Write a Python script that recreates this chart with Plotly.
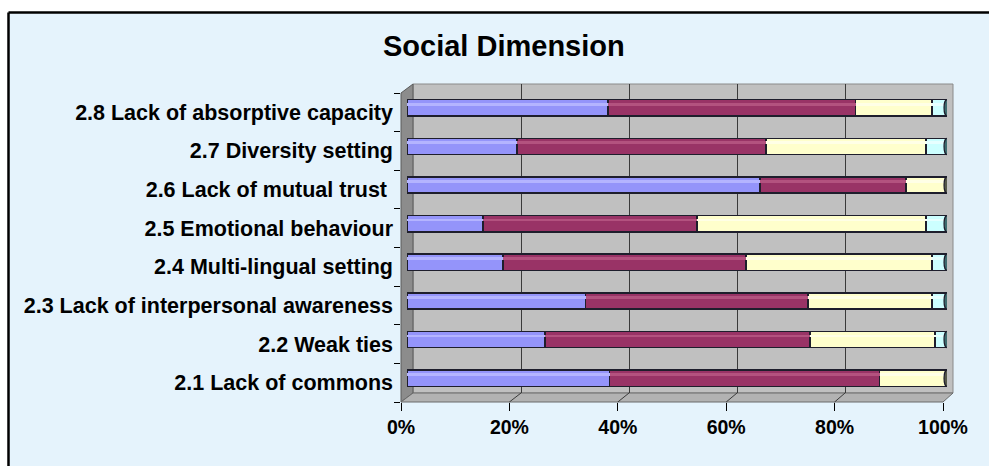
import plotly.graph_objects as go

W, H = 989, 466

# ---- data -------------------------------------------------------------
categories = [
    "2.1 Lack of commons",
    "2.2 Weak ties",
    "2.3 Lack of interpersonal awareness",
    "2.4 Multi-lingual setting",
    "2.5 Emotional behaviour",
    "2.6 Lack of mutual trust\u00a0",
    "2.7 Diversity setting",
    "2.8 Lack of absorptive capacity",
]
series_names = ["Series1", "Series2", "Series3", "Series4"]
s1 = [37.5, 25.6, 33.1, 17.8, 14.1, 65.4, 20.4, 37.2]
s2 = [50.0, 49.0, 41.2, 45.0, 39.6, 27.0, 46.1, 45.9]
s3 = [12.5, 23.2, 22.9, 34.4, 42.4, 7.6, 29.6, 14.1]
s4 = [0.0, 2.2, 2.8, 2.8, 3.9, 0.0, 3.9, 2.8]
x_ticks = [0, 20, 40, 60, 80, 100]
title_text = "Social Dimension"

colors = ["#9494fa", "#993366", "#ffffcc", "#ccffff"]
shine = ["#b4b4ff", "#b3527f", "#ffffe6", "#e6ffff"]
cap_colors = ["#4a4a80", "#4d1a33", "#55584a", "#3d6b6e"]


# ---- pixel helpers (figure has zero margins, so paper == pixels) -------
def X(px):
    return px / W


def Y(py):
    return 1 - py / H


# three planes of the pseudo-3D box: back wall, bar plane, front edge
back = dict(x0=413, x1=953, y0=84, y1=393)
mid = dict(x0=407, x1=947, y0=88.5, y1=397.5)
front = dict(x0=401, x1=943, y0=93, y1=402)

fig = go.Figure()

# invisible anchor trace for the back-wall grid
fig.add_trace(go.Scatter(x=[0], y=[0], xaxis="x", yaxis="y", mode="markers",
                         marker=dict(opacity=0), hoverinfo="skip", showlegend=False))

# stacked bars
for name, vals, col in zip(series_names, [s1, s2, s3, s4], colors):
    fig.add_trace(go.Bar(
        y=categories, x=vals, orientation="h", name=name,
        marker=dict(color=col, line=dict(color="#1e1e2c", width=1.5)),
        width=0.42, xaxis="x2", yaxis="y2", showlegend=False,
    ))

# thin highlight band along the upper part of each cylinder
for name, vals, col in zip(series_names, [s1, s2, s3, s4], shine):
    fig.add_trace(go.Bar(
        y=categories, x=vals, orientation="h", name=name,
        marker=dict(color=col, line=dict(width=0)),
        width=0.07, offset=0.06, xaxis="x2", yaxis="y4", showlegend=False,
        hoverinfo="skip",
    ))

# invisible anchor trace for the front axes (labels + ticks)
fig.add_trace(go.Scatter(x=[0] * len(categories), y=categories, xaxis="x3", yaxis="y3",
                         mode="markers", marker=dict(opacity=0), hoverinfo="skip",
                         showlegend=False))

shapes = []
# white page strips above and left of the chart panel, with the panel frame
shapes.append(dict(type="rect", xref="paper", yref="paper", x0=0, x1=1, y0=Y(12.5), y1=1,
                   fillcolor="#ffffff", line=dict(width=0), layer="below"))
shapes.append(dict(type="rect", xref="paper", yref="paper", x0=0, x1=X(8.5), y0=0, y1=1,
                   fillcolor="#ffffff", line=dict(width=0), layer="below"))
shapes.append(dict(type="line", xref="paper", yref="paper", x0=X(8.5), x1=1,
                   y0=Y(12.5), y1=Y(12.5), line=dict(color="#000000", width=2.5)))
shapes.append(dict(type="line", xref="paper", yref="paper", x0=X(8.5), x1=X(8.5),
                   y0=0, y1=Y(12.5), line=dict(color="#000000", width=2.5)))
# back wall
shapes.append(dict(type="rect", xref="paper", yref="paper",
                   x0=X(back["x0"]), x1=X(back["x1"]), y0=Y(back["y1"]), y1=Y(back["y0"]),
                   fillcolor="#c0c0c0", line=dict(color="#8a8a8a", width=1), layer="below"))
# side wall
shapes.append(dict(type="path", xref="paper", yref="paper",
                   path=(f"M{X(front['x0'])},{Y(front['y0'])} L{X(back['x0'])},{Y(back['y0'])} "
                         f"L{X(back['x0'])},{Y(back['y1'])} L{X(front['x0'])},{Y(front['y1'])} Z"),
                   fillcolor="#8c8c8c", line=dict(color="#5a5a5a", width=1), layer="below"))
# floor
shapes.append(dict(type="path", xref="paper", yref="paper",
                   path=(f"M{X(front['x0'])},{Y(front['y1'])} L{X(back['x0'])},{Y(back['y1'])} "
                         f"L{X(back['x1'])},{Y(back['y1'])} L{X(front['x1'])},{Y(front['y1'])} Z"),
                   fillcolor="#b2b2b2", line=dict(color="#6a6a6a", width=1), layer="below"))
# floor grid lines joining front ticks to back-wall grid lines
for v in x_ticks[1:-1]:
    fx = front["x0"] + v / 100 * (front["x1"] - front["x0"])
    bx = back["x0"] + v / 100 * (back["x1"] - back["x0"])
    shapes.append(dict(type="line", xref="paper", yref="paper",
                       x0=X(fx), y0=Y(front["y1"]), x1=X(bx), y1=Y(back["y1"]),
                       line=dict(color="#3a3a3a", width=1), layer="below"))

# end caps of each cylinder
totals = [a + b + c + d for a, b, c, d in zip(s1, s2, s3, s4)]
for i, tot in enumerate(totals):
    last = 3 if s4[i] > 0 else 2
    shapes.append(dict(type="circle", xref="x2", yref="y2",
                       x0=tot - 0.55, x1=tot + 0.55, y0=i - 0.21, y1=i + 0.21,
                       fillcolor=cap_colors[last], line=dict(color="#1e1e2c", width=1.2),
                       layer="above"))

bold = dict(family="Liberation Sans, Arial, sans-serif", color="#000000", weight="bold")
cat_axis = dict(type="category", categoryorder="array", categoryarray=categories,
                range=[-0.5, len(categories) - 0.5], automargin=False)

fig.update_layout(
    width=W, height=H,
    autosize=False,
    margin=dict(l=0, r=0, t=0, b=0, pad=0, autoexpand=False),
    paper_bgcolor="#e5f3fc",
    plot_bgcolor="rgba(0,0,0,0)",
    barmode="stack",
    showlegend=False,
    shapes=shapes,
    xaxis=dict(domain=[X(back["x0"]), X(back["x1"])], range=[0, 100], anchor="y",
               tickvals=x_ticks[1:-1], showgrid=True, gridcolor="#3a3a3a", gridwidth=1,
               showticklabels=False, ticks="", zeroline=False, showline=False,
               automargin=False),
    yaxis=dict(domain=[Y(back["y1"]), Y(back["y0"])], range=[0, 1], anchor="x",
               visible=False, automargin=False),
    xaxis2=dict(domain=[X(mid["x0"]), X(mid["x1"])], range=[0, 100], anchor="y2",
                visible=False, automargin=False),
    yaxis2=dict(domain=[Y(mid["y1"]), Y(mid["y0"])], anchor="x2", visible=False, **cat_axis),
    yaxis4=dict(overlaying="y2", anchor="x2", visible=False, **cat_axis),
    xaxis3=dict(domain=[X(front["x0"]), X(front["x1"])], range=[0, 100], anchor="y3",
                tickvals=x_ticks, ticktext=[f"{v}%" for v in x_ticks],
                ticks="outside", ticklen=8, tickcolor="#000000", tickwidth=1,
                showgrid=False, zeroline=False, showline=False, automargin=False,
                tickfont=dict(size=19.5, **bold)),
    yaxis3=dict(domain=[Y(front["y1"]), Y(front["y0"])], anchor="x3",
                tickson="boundaries", ticks="outside", ticklen=6, tickcolor="#000000",
                ticklabelstandoff=7,
                showgrid=False, zeroline=False, showline=False,
                tickfont=dict(size=21.5, **bold), **cat_axis),
    annotations=[dict(text=title_text, xref="paper", yref="paper", x=X(504), y=Y(46),
                      xanchor="center", yanchor="middle", showarrow=False,
                      font=dict(size=29, **bold))],
)

# keep the page itself free of margins and scrollbars
page_css = ("document.documentElement.style.overflow='hidden';"
            "document.body.style.margin='0';document.body.style.overflow='hidden';")

fig.write_html("out.html", config=dict(responsive=False, displayModeBar=False),
               post_script=page_css)
